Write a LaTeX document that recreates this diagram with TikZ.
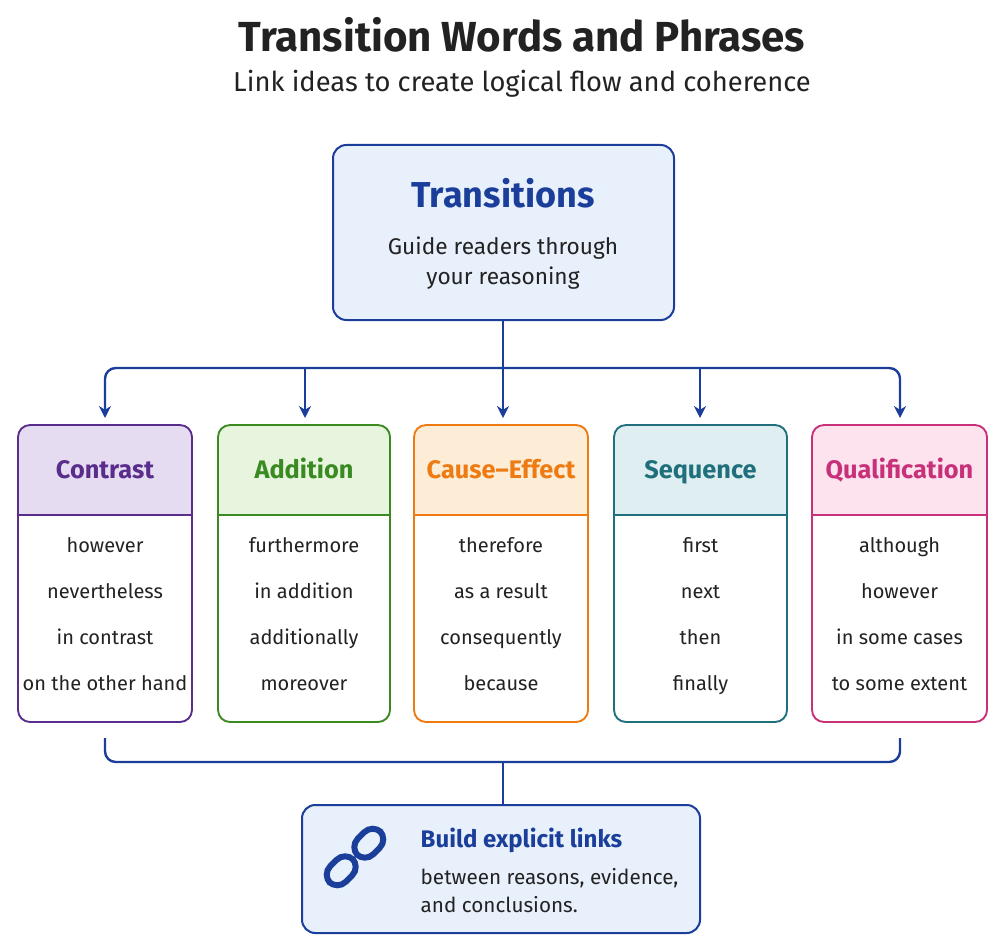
\documentclass[tikz,border=0pt]{standalone}
\usepackage{fontspec}
\setmainfont{Fira Sans}
\usetikzlibrary{arrows.meta}
\definecolor{bl}{HTML}{1A3E9A}\definecolor{blf}{HTML}{E8F0FC}
\definecolor{c1}{HTML}{5A2D8C}\definecolor{f1}{HTML}{E5DCF2}
\definecolor{c2}{HTML}{3A8A22}\definecolor{f2}{HTML}{E8F5DE}
\definecolor{c3}{HTML}{EE7A12}\definecolor{f3}{HTML}{FDECD6}
\definecolor{c4}{HTML}{1F6F7C}\definecolor{f4}{HTML}{DEEEF1}
\definecolor{c5}{HTML}{C8307A}\definecolor{f5}{HTML}{FCE3EE}
\definecolor{tx}{HTML}{222222}
\begin{document}
\begin{tikzpicture}[x=0.75pt,y=-0.75pt,
 conn/.style={bl,line width=1.8pt,rounded corners=8pt},
 arr/.style={conn,-{Stealth[length=9pt,width=9pt]}},
 item/.style={text=tx,anchor=base,font=\fontsize{15}{18}\selectfont}]
\useasboundingbox (0,0) rectangle (1006,952);
\node[font=\bfseries\fontsize{31.5}{36}\selectfont,text=tx] (title) at (522,35) {Transition Words and Phrases};
\node[font=\fontsize{20.5}{24}\selectfont,text=tx] (sub) at (522,84) {Link ideas to create logical flow and coherence};
\draw[bl,fill=blf,line width=1.5pt,rounded corners=10pt] (333,145) rectangle (674,320);
\node[font=\bfseries\fontsize{27}{30}\selectfont,text=bl] (tt) at (503,193) {Transitions};
\node[font=\fontsize{17}{20}\selectfont,text=tx,align=center] (tg) at (503,263) {Guide readers through\\[3pt]your reasoning};
\coordinate (tb) at (503,320);
\coordinate (j) at (503,368);
\foreach \x/\n in {105/a,305/b,503/c,700/d,900/e}{\coordinate (arr\n) at (\x,418);\coordinate (h\n) at (\x,368);}
\draw[conn] (tb) -- (j);
\draw[arr] (j) -| (arra); \draw[arr] (j) -| (arre);
\draw[arr] (hb) -- (arrb); \draw[arr] (j) -- (arrc); \draw[arr] (hd) -- (arrd);
\foreach \xa/\xb/\c/\f/\h/\i/\ii/\iii/\iv/\n in {
18/192/c1/f1/Contrast/however/nevertheless/in contrast/on the other hand/A,
218/390/c2/f2/Addition/furthermore/in addition/additionally/moreover/B,
414/588/c3/f3/Cause–Effect/therefore/as a result/consequently/because/C,
614/787/c4/f4/Sequence/first/next/then/finally/D,
812/987/c5/f5/Qualification/although/however/in some cases/to some extent/E}{
 \fill[white,rounded corners=9pt] (\xa,425) rectangle (\xb,722);
 \fill[\f,rounded corners=9pt] (\xa,425) rectangle (\xb,520);
 \fill[\f] (\xa,500) rectangle (\xb,515);
 \fill[white] (\xa,515) rectangle (\xb,530);
 \draw[\c,line width=1.4pt] (\xa,515) -- (\xb,515);
 \draw[\c,line width=1.4pt,rounded corners=9pt] (\xa,425) rectangle (\xb,722);
 \node[anchor=base,font=\bfseries\fontsize{19}{22}\selectfont,text=\c] (h\n) at ({(\xa+\xb)/2},478) {\h};
 \node[item] (i1\n) at ({(\xa+\xb)/2},552) {\i};
 \node[item] (i2\n) at ({(\xa+\xb)/2},598) {\ii};
 \node[item] (i3\n) at ({(\xa+\xb)/2},644) {\iii};
 \node[item] (i4\n) at ({(\xa+\xb)/2},690) {\iv};
}
\coordinate (ba) at (105,738); \coordinate (be) at (900,738);
\coordinate (bj) at (503,762); \coordinate (bt) at (503,805);
\draw[conn] (ba) |- (bj) -| (be);
\draw[conn] (bj) -- (bt);
\draw[bl,fill=blf,line width=1.5pt,rounded corners=10pt] (302,805) rectangle (700,933);
\begin{scope}[shift={(355,857)},rotate=45]
 \draw[bl,line width=4.5pt,rounded corners=9pt] (-36,-11) rectangle (-3,11);
 \draw[bl,line width=4.5pt,rounded corners=9pt] (3,-11) rectangle (36,11);
\end{scope}
\node[anchor=west,font=\bfseries\fontsize{18}{21}\selectfont,text=bl] (bh) at (416,840) {Build explicit links};
\node[anchor=west,font=\fontsize{15.5}{18}\selectfont,text=tx,align=left] (bx) at (416,891) {between reasons, evidence,\\[3pt]and conclusions.};
\end{tikzpicture}
\end{document}
